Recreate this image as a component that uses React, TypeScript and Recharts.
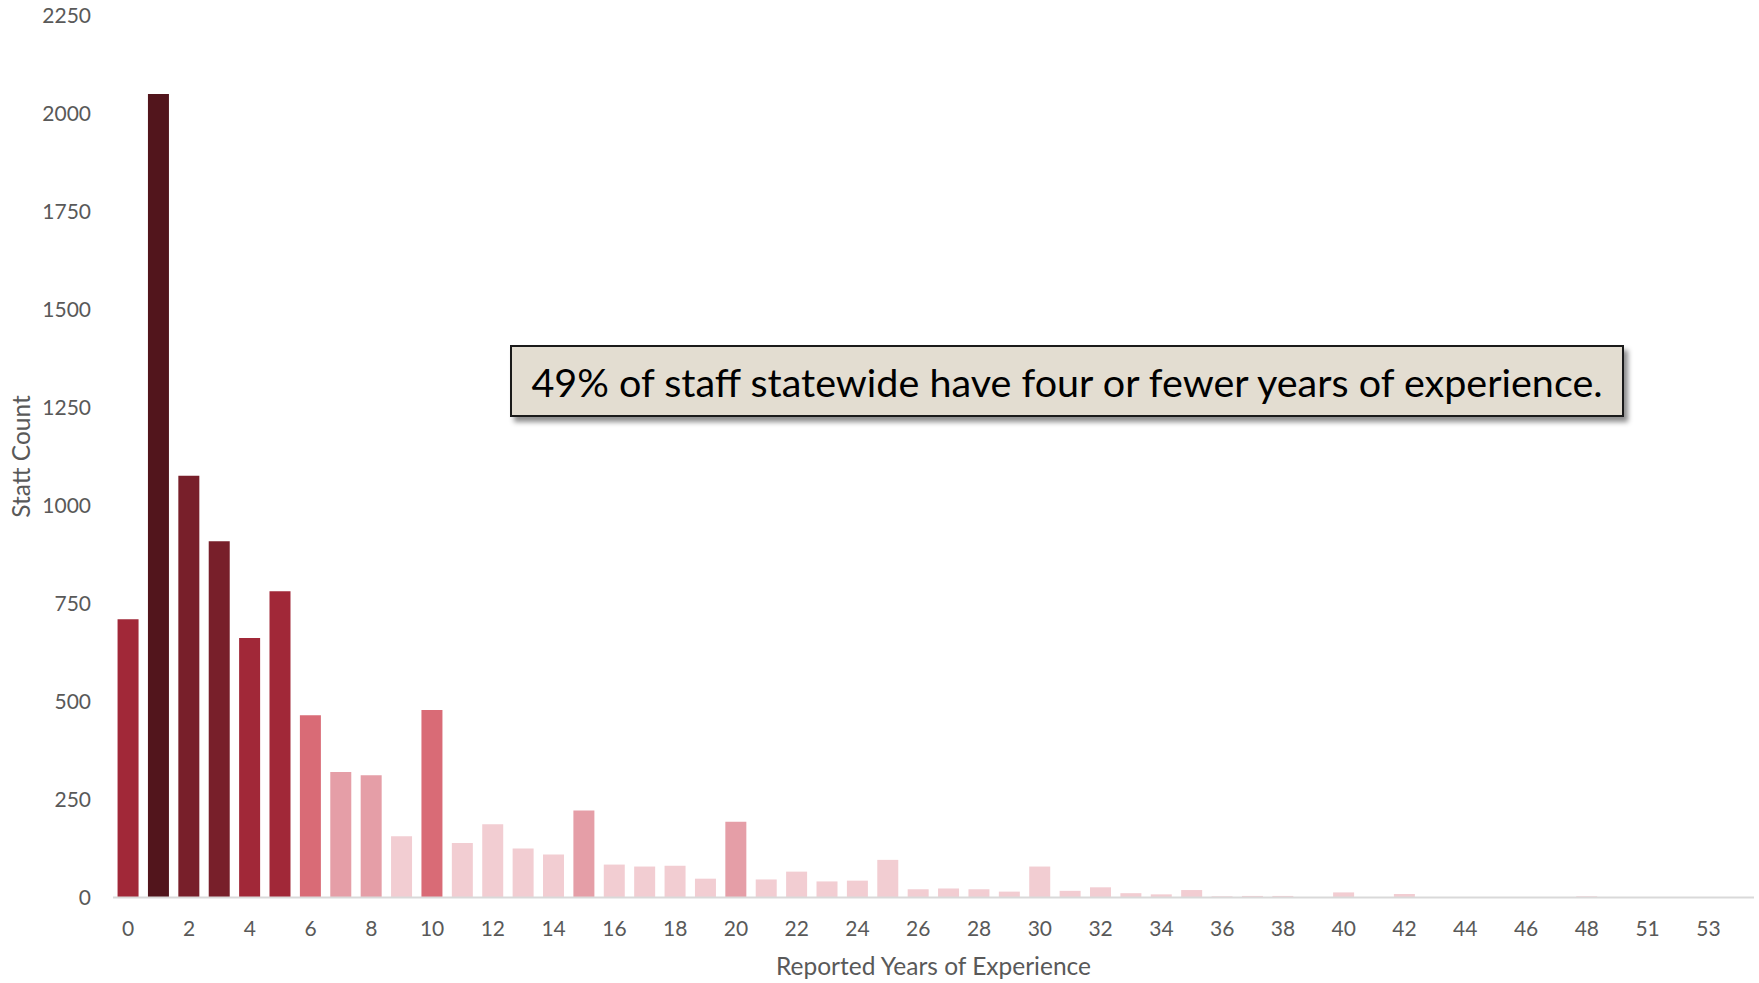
import React from 'react';
import { BarChart, Bar, XAxis, YAxis, Cell } from 'recharts';

// Years of experience reported (not every year appears in the data)
const years = [
  '0', '1', '2', '3', '4', '5', '6', '7', '8', '9',
  '10', '11', '12', '13', '14', '15', '16', '17', '18', '19',
  '20', '21', '22', '23', '24', '25', '26', '27', '28', '29',
  '30', '31', '32', '33', '34', '35', '36', '37', '38', '39',
  '40', '41', '42', '43', '44', '45', '46', '47', '48', '50',
  '51', '52', '53', '55',
];

// Staff count per year of experience
const counts = [
  710, 2050, 1076, 909, 662, 781, 465, 320, 312, 156,
  478, 139, 187, 125, 110, 222, 84, 79, 81, 48,
  193, 46, 66, 41, 43, 96, 21, 23, 21, 15,
  79, 17, 26, 11, 8, 19, 3, 4, 4, 1,
  13, 1, 9, 1, 1, 1, 1, 1, 3, 1,
  1, 1, 1, 1,
];

const yTicks = [0, 250, 500, 750, 1000, 1250, 1500, 1750, 2000, 2250];

const note = '49% of staff statewide have four or fewer years of experience.';

const data = years.map((year, i) => ({ year, count: counts[i] }));

// heat-style shading: taller bars get darker
function shade(v: number) {
  if (v >= 1500) return '#52151c';
  if (v >= 850) return '#781f2a';
  if (v >= 600) return '#a12838';
  if (v >= 400) return '#d96b76';
  if (v >= 190) return '#e59ea7';
  return '#f2cdd2';
}

const FONT = 'Lato, "Open Sans", sans-serif';
const tickStyle = { fontFamily: FONT, fontSize: 21, fill: '#595959' };
const titleStyle = { fontFamily: FONT, fontSize: 24.5, fill: '#595959' };

export default function App() {
  return (
    <div style={{ position: 'fixed', left: 0, top: 0, width: 1759, height: 983, background: '#fff' }}>
      <BarChart
        width={1759}
        height={983}
        data={data}
        margin={{ top: 15.5, right: 5, left: 0, bottom: 0 }}
        barCategoryGap="15%"
      >
        <XAxis
          dataKey="year"
          interval={1}
          height={85.5}
          tick={tickStyle}
          tickLine={false}
          tickSize={0}
          tickMargin={24}
          axisLine={{ stroke: '#d9d9d9', strokeWidth: 2 }}
          label={{
            value: 'Reported Years of Experience',
            position: 'insideBottom',
            offset: 8,
            style: titleStyle,
          }}
        />
        <YAxis
          width={113}
          domain={[0, 2250]}
          ticks={yTicks}
          tick={tickStyle}
          tickLine={false}
          tickSize={0}
          tickMargin={22}
          axisLine={false}
          label={{
            value: 'Statt Count',
            content: ({ viewBox }: any) => (
              <text
                x={20}
                y={viewBox.y + viewBox.height / 2}
                transform={`rotate(-90, 20, ${viewBox.y + viewBox.height / 2})`}
                textAnchor="middle"
                dominantBaseline="central"
                style={titleStyle}
              >
                Statt Count
              </text>
            ),
          }}
        />
        <Bar dataKey="count" isAnimationActive={false}>
          {data.map((d) => (
            <Cell key={d.year} fill={shade(d.count)} />
          ))}
        </Bar>
      </BarChart>
      <div
        style={{
          position: 'absolute',
          left: 510,
          top: 345,
          width: 1114,
          height: 72,
          boxSizing: 'border-box',
          border: '2px solid #1a1a1a',
          background: '#e3ddd1',
          boxShadow: '4px 5px 5px rgba(0,0,0,0.45)',
          display: 'flex',
          alignItems: 'center',
          justifyContent: 'center',
          fontFamily: FONT,
          fontSize: 39.5,
          color: '#000',
          whiteSpace: 'nowrap',
        }}
      >
        {note}
      </div>
    </div>
  );
}
